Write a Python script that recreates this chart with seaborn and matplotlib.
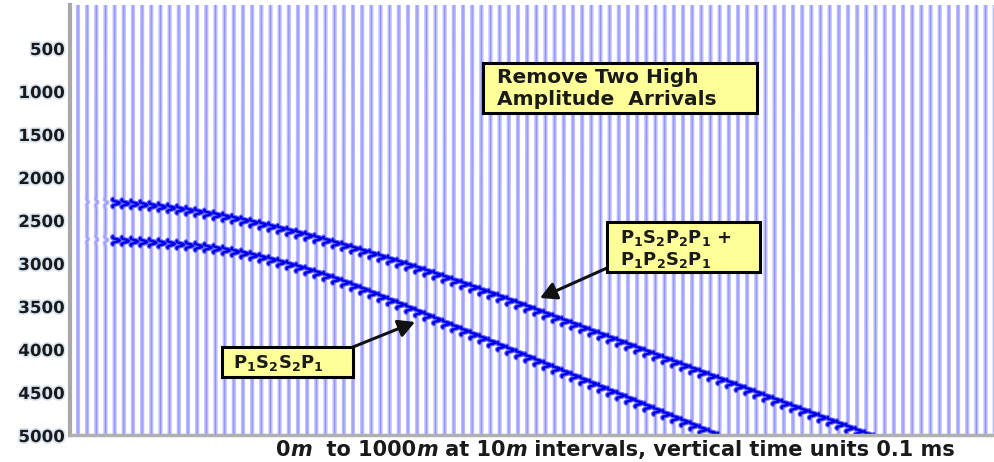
import numpy as np
import pandas as pd
import matplotlib
matplotlib.use("Agg")
import matplotlib.pyplot as plt
import matplotlib.patheffects as pe
from matplotlib.patches import Rectangle
import seaborn as sns

# receiver offsets (m) and time samples (0.1 ms units)
offsets = np.arange(0, 1001, 10)
time_axis = np.arange(0, 5001, 2)

# arrival times, one per trace starting at offset 0
upper_arrival = [2290, 2290, 2293, 2297, 2302, 2309, 2317, 2326, 2337, 2349,
                 2362, 2376, 2392, 2409, 2427, 2446, 2466, 2487, 2509, 2532,
                 2556, 2580, 2605, 2631, 2658, 2686, 2714, 2743, 2773, 2803,
                 2834, 2866, 2898, 2931, 2964, 2998, 3032, 3067, 3102, 3138,
                 3174, 3211, 3248, 3286, 3324, 3362, 3401, 3440, 3479, 3519,
                 3559, 3599, 3639, 3679, 3719, 3759, 3799, 3839, 3879, 3919,
                 3959, 3999, 4039, 4079, 4119, 4159, 4199, 4239, 4279, 4319,
                 4359, 4399, 4439, 4479, 4519, 4559, 4599, 4639, 4679, 4719,
                 4759, 4799, 4839, 4879, 4919, 4959, 4999, 5039]
lower_arrival = [2720, 2720, 2726, 2732, 2738, 2744, 2750, 2756, 2763, 2770,
                 2778, 2787, 2797, 2808, 2820, 2835, 2852, 2871, 2892, 2915,
                 2940, 2966, 2994, 3023, 3054, 3086, 3119, 3154, 3190, 3229,
                 3270, 3312, 3355, 3398, 3441, 3484, 3528, 3572, 3616, 3660,
                 3704, 3748, 3792, 3836, 3880, 3924, 3968, 4012, 4056, 4100,
                 4144, 4188, 4232, 4276, 4320, 4364, 4408, 4452, 4496, 4540,
                 4584, 4628, 4672, 4716, 4760, 4804, 4848, 4892, 4936, 4980,
                 5024]
# weak amplitude on the nearest traces, full amplitude after
onset_amp = [0.0, 0.2, 0.25, 0.4]

y_ticks = [500, 1000, 1500, 2000, 2500, 3000, 3500, 4000, 4500, 5000]

W, H = 995, 462
GAIN = 5.5


def ricker(tau, f=0.0105):
    a = (np.pi * f * tau) ** 2
    return (1 - 2 * a) * np.exp(-a)


trace_frames = []
event_frames = []
for i, off in enumerate(offsets):
    amp = onset_amp[i] if i < len(onset_amp) else 1.0
    sig = np.zeros(len(time_axis))
    arrivals = [arr[i] for arr in (upper_arrival, lower_arrival) if i < len(arr)]
    for t0 in arrivals:
        sig += amp * ricker(time_axis - t0)
    x = off + GAIN * sig
    trace_frames.append(pd.DataFrame({"x": x, "t": time_axis, "trace": i}))
    if amp >= 1.0:
        for k, t0 in enumerate(arrivals):
            win = np.abs(time_axis - t0) <= 48
            event_frames.append(pd.DataFrame({"x": x[win], "t": time_axis[win],
                                              "unit": f"{i}-{k}"}))

traces = pd.concat(trace_frames, ignore_index=True)
events = pd.concat(event_frames, ignore_index=True)

sns.set_style("white")
plt.rcParams["font.family"] = ["DejaVu Sans"]

fig = plt.figure(figsize=(W / 100, H / 100), dpi=100)
ax = fig.add_axes([70 / W, 27 / H, 925 / W, 430 / H])

common = dict(x="x", y="t", estimator=None, sort=False, orient="y",
              legend=False, ax=ax)
sns.lineplot(data=traces, units="trace", color="#bcbcff", lw=3.0, **common)
sns.lineplot(data=traces, units="trace", color="#8c8cff", lw=0.7, **common)
sns.lineplot(data=events, units="unit", color="#6a6aff", lw=3.4, **common)
sns.lineplot(data=events, units="unit", color="#0000e6", lw=1.7, **common)

ax.set_xlim(-8.7, 1000.3)
ax.set_ylim(5000, 0)
ax.set_xticks([])
ax.set_yticks(y_ticks)
ax.set_xlabel("")
ax.set_ylabel("")
for side in ("top", "right"):
    ax.spines[side].set_visible(False)
ax.spines["left"].set_color("#a8a8a8")
ax.spines["left"].set_linewidth(3)
ax.spines["bottom"].set_color("#b0b0b0")
ax.spines["bottom"].set_linewidth(2.5)
ax.tick_params(axis="y", direction="in", length=6, width=1.2, color="#808080",
               pad=4, labelsize=12, labelcolor="#1a1a1a")
glow = [pe.withStroke(linewidth=2.5, foreground="#dbe6f3")]
for lbl in ax.get_yticklabels():
    lbl.set_fontweight("bold")
    lbl.set_path_effects(glow)


def add_box(x0, y0, x1, y1):
    fig.add_artist(Rectangle((x0 / W, 1 - y1 / H), (x1 - x0) / W, (y1 - y0) / H,
                             transform=fig.transFigure, fc="#ffff99", ec="black",
                             lw=2.2, zorder=5))


def add_line(x, y, s, size=13.5):
    fig.text(x / W, 1 - y / H, s, ha="left", va="baseline", fontsize=size,
             fontweight="bold", color="#1a1a1a", zorder=6)


add_box(483, 63, 757, 113)
add_line(497, 83, "Remove Two High", 14.5)
add_line(497, 105, "Amplitude  Arrivals", 14.5)

add_box(607, 222, 760, 272)
add_line(620, 243, r"$\mathbf{P_1S_2P_2P_1}$ +", 13)
add_line(620, 265, r"$\mathbf{P_1P_2S_2P_1}$", 13)

add_box(222, 347, 353, 377)
add_line(233, 368, r"$\mathbf{P_1S_2S_2P_1}$", 13)

arrow = dict(arrowstyle="-|>,head_length=0.55,head_width=0.3", color="#111111",
             lw=2.2, mutation_scale=18, shrinkA=0, shrinkB=0)
ax.annotate("", xy=(540, H - 298), xycoords="figure pixels",
            xytext=(607, H - 268), textcoords="figure pixels", arrowprops=arrow)
ax.annotate("", xy=(415, H - 322), xycoords="figure pixels",
            xytext=(353, H - 347), textcoords="figure pixels", arrowprops=arrow)

# bottom caption with italic units
pieces = [("0", "normal"), ("m", "italic"), ("  to 1000", "normal"),
          ("m", "italic"), (" at 10", "normal"), ("m", "italic"),
          (" intervals, vertical time units 0.1 ms", "normal")]
style = dict(fontsize=15, fontweight="bold", color="#1a1a1a")
prev = fig.text(276 / W, 1 - 456 / H, pieces[0][0], ha="left", va="baseline",
                fontstyle=pieces[0][1], **style)
for s, st in pieces[1:]:
    prev = ax.annotate(s, xy=(1, 0), xycoords=prev, ha="left", va="bottom",
                       fontstyle=st, annotation_clip=False, **style)

fig.savefig("out.png", dpi=100)
